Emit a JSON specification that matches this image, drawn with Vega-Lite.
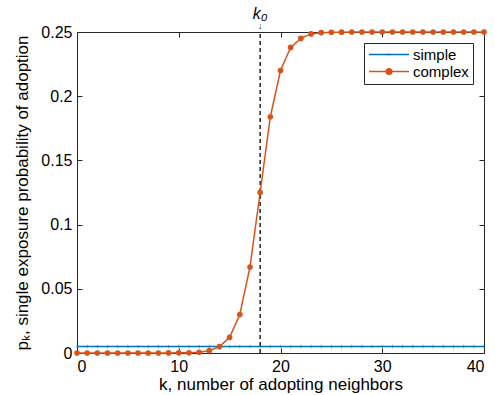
{
  "$schema": "https://vega.github.io/schema/vega-lite/v6.json",
  "width": 407,
  "height": 321,
  "autosize": "none",
  "padding": {"left": 77, "top": 32, "right": 11, "bottom": 42},
  "background": "white",
  "config": {
    "font": "Liberation Sans",
    "view": {"stroke": "#262626", "strokeWidth": 1},
    "axis": {"grid": false, "domain": false, "tickColor": "#262626", "tickWidth": 1, "labelColor": "#000", "titleColor": "#000", "labelFontSize": 16, "titleFontSize": 17, "titleFontWeight": "normal", "labelFont": "Liberation Sans", "titleFont": "Liberation Sans"}
  },
  "datasets": {
    "curves": [
      {"k": 0, "p": 0.005, "series": "simple"}, {"k": 1, "p": 0.005, "series": "simple"}, {"k": 2, "p": 0.005, "series": "simple"}, {"k": 3, "p": 0.005, "series": "simple"}, {"k": 4, "p": 0.005, "series": "simple"}, {"k": 5, "p": 0.005, "series": "simple"}, {"k": 6, "p": 0.005, "series": "simple"}, {"k": 7, "p": 0.005, "series": "simple"}, {"k": 8, "p": 0.005, "series": "simple"}, {"k": 9, "p": 0.005, "series": "simple"}, {"k": 10, "p": 0.005, "series": "simple"}, {"k": 11, "p": 0.005, "series": "simple"}, {"k": 12, "p": 0.005, "series": "simple"}, {"k": 13, "p": 0.005, "series": "simple"}, {"k": 14, "p": 0.005, "series": "simple"}, {"k": 15, "p": 0.005, "series": "simple"}, {"k": 16, "p": 0.005, "series": "simple"}, {"k": 17, "p": 0.005, "series": "simple"}, {"k": 18, "p": 0.005, "series": "simple"}, {"k": 19, "p": 0.005, "series": "simple"}, {"k": 20, "p": 0.005, "series": "simple"}, {"k": 21, "p": 0.005, "series": "simple"}, {"k": 22, "p": 0.005, "series": "simple"}, {"k": 23, "p": 0.005, "series": "simple"}, {"k": 24, "p": 0.005, "series": "simple"}, {"k": 25, "p": 0.005, "series": "simple"}, {"k": 26, "p": 0.005, "series": "simple"}, {"k": 27, "p": 0.005, "series": "simple"}, {"k": 28, "p": 0.005, "series": "simple"}, {"k": 29, "p": 0.005, "series": "simple"}, {"k": 30, "p": 0.005, "series": "simple"}, {"k": 31, "p": 0.005, "series": "simple"}, {"k": 32, "p": 0.005, "series": "simple"}, {"k": 33, "p": 0.005, "series": "simple"}, {"k": 34, "p": 0.005, "series": "simple"}, {"k": 35, "p": 0.005, "series": "simple"}, {"k": 36, "p": 0.005, "series": "simple"}, {"k": 37, "p": 0.005, "series": "simple"}, {"k": 38, "p": 0.005, "series": "simple"}, {"k": 39, "p": 0.005, "series": "simple"}, {"k": 40, "p": 0.005, "series": "simple"},
      {"k": 0, "p": 0, "series": "complex"}, {"k": 1, "p": 0, "series": "complex"}, {"k": 2, "p": 0, "series": "complex"}, {"k": 3, "p": 0, "series": "complex"}, {"k": 4, "p": 0, "series": "complex"}, {"k": 5, "p": 0, "series": "complex"}, {"k": 6, "p": 0, "series": "complex"}, {"k": 7, "p": 0.00001, "series": "complex"}, {"k": 8, "p": 0.00002, "series": "complex"}, {"k": 9, "p": 0.00004, "series": "complex"}, {"k": 10, "p": 0.0001, "series": "complex"}, {"k": 11, "p": 0.0002, "series": "complex"}, {"k": 12, "p": 0.0006, "series": "complex"}, {"k": 13, "p": 0.0018, "series": "complex"}, {"k": 14, "p": 0.005, "series": "complex"}, {"k": 15, "p": 0.0122, "series": "complex"}, {"k": 16, "p": 0.03, "series": "complex"}, {"k": 17, "p": 0.067, "series": "complex"}, {"k": 18, "p": 0.125, "series": "complex"}, {"k": 19, "p": 0.184, "series": "complex"}, {"k": 20, "p": 0.22, "series": "complex"}, {"k": 21, "p": 0.238, "series": "complex"}, {"k": 22, "p": 0.245, "series": "complex"}, {"k": 23, "p": 0.2485, "series": "complex"}, {"k": 24, "p": 0.2495, "series": "complex"}, {"k": 25, "p": 0.2498, "series": "complex"}, {"k": 26, "p": 0.2499, "series": "complex"}, {"k": 27, "p": 0.25, "series": "complex"}, {"k": 28, "p": 0.25, "series": "complex"}, {"k": 29, "p": 0.25, "series": "complex"}, {"k": 30, "p": 0.25, "series": "complex"}, {"k": 31, "p": 0.25, "series": "complex"}, {"k": 32, "p": 0.25, "series": "complex"}, {"k": 33, "p": 0.25, "series": "complex"}, {"k": 34, "p": 0.25, "series": "complex"}, {"k": 35, "p": 0.25, "series": "complex"}, {"k": 36, "p": 0.25, "series": "complex"}, {"k": 37, "p": 0.25, "series": "complex"}, {"k": 38, "p": 0.25, "series": "complex"}, {"k": 39, "p": 0.25, "series": "complex"}, {"k": 40, "p": 0.25, "series": "complex"}
    ],
    "marker": [{"k": 18, "p0": 0, "p1": 0.25, "label": "k₀", "arrow": "↓"}]
  },
  "layer": [
    {
      "data": {"name": "marker"},
      "mark": {"type": "rule", "strokeDash": [4, 3], "strokeWidth": 1.3, "color": "#000"},
      "encoding": {
        "x": {"field": "k", "type": "quantitative", "axis": null, "scale": {"domain": [0, 40], "nice": false}},
        "y": {"field": "p0", "type": "quantitative", "axis": null, "scale": {"domain": [0, 0.25], "nice": false}},
        "y2": {"field": "p1"}
      }
    },
    {
      "data": {"name": "curves"},
      "transform": [{"filter": "datum.series === 'simple'"}],
      "mark": {"type": "line", "strokeWidth": 1.5, "clip": false, "point": {"filled": false, "shape": "M0,-1L0,1", "size": 12, "strokeWidth": 0.8, "opacity": 0.7}},
      "encoding": {
        "x": {"field": "k", "type": "quantitative", "title": "k, number of adopting neighbors",
              "axis": {"orient": "bottom", "values": [0, 10, 20, 30, 40], "tickSize": 5, "offset": -5, "labelPadding": 5, "titlePadding": 2}},
        "y": {"field": "p", "type": "quantitative", "title": "pₖ, single exposure probability of adoption",
              "axis": {"orient": "left", "values": [0, 0.05, 0.1, 0.15, 0.2, 0.25], "format": "~g", "tickSize": 5, "offset": -5, "labelPadding": 5, "titlePadding": 9}},
        "color": {"field": "series", "type": "nominal", "sort": ["simple", "complex"],
                  "scale": {"domain": ["simple", "complex"], "range": ["#0072BD", "#D95319"]},
                  "legend": {"title": null, "orient": "top-right", "offset": 11, "strokeColor": "#262626", "fillColor": "white", "padding": 4, "labelFontSize": 15, "labelFont": "Liberation Sans", "labelColor": "#000", "symbolSize": 1600, "symbolStrokeWidth": 1.5, "clipHeight": 15, "rowPadding": 1, "labelOffset": 3,
                    "encode": {"symbols": {"update": {
                      "shape": {"signal": "datum.value === 'complex' ? 'M-1,0H1M0.14,0A0.14,0.14,0,1,1,-0.14,0A0.14,0.14,0,1,1,0.14,0' : 'M-1,0H1M0,-0.05V0.05'"},
                      "size": {"value": 1600},
                      "strokeWidth": {"value": 1.5},
                      "fill": {"signal": "datum.value === 'complex' ? '#D95319' : 'transparent'"},
                      "fillOpacity": {"signal": "datum.value === 'complex' ? 1 : 0"}}}}}}
      }
    },
    {
      "data": {"name": "curves"},
      "transform": [{"filter": "datum.series === 'complex'"}],
      "mark": {"type": "line", "strokeWidth": 1.5, "clip": false, "point": {"filled": true, "size": 32}},
      "encoding": {
        "x": {"field": "k", "type": "quantitative", "axis": null},
        "y": {"field": "p", "type": "quantitative", "axis": null},
        "color": {"field": "series", "type": "nominal", "legend": null}
      }
    },
    {
      "data": {"name": "marker"},
      "mark": {"type": "point", "opacity": 0},
      "encoding": {
        "x": {"field": "k", "type": "quantitative", "axis": {"orient": "top", "values": [0, 10, 20, 30, 40], "tickSize": 5, "offset": -5, "labels": false, "title": null}},
        "y": {"field": "p0", "type": "quantitative", "axis": {"orient": "right", "values": [0, 0.05, 0.1, 0.15, 0.2, 0.25], "tickSize": 5, "offset": -5, "labels": false, "title": null}}
      }
    },
    {
      "data": {"name": "marker"},
      "mark": {"type": "text", "fontSize": 16, "fontStyle": "italic", "dy": -18, "clip": false, "font": "Liberation Sans"},
      "encoding": {
        "x": {"field": "k", "type": "quantitative", "axis": null},
        "y": {"field": "p1", "type": "quantitative", "axis": null},
        "text": {"field": "label"}
      }
    },
    {
      "data": {"name": "marker"},
      "mark": {"type": "text", "fontSize": 9, "dy": -6, "clip": false},
      "encoding": {
        "x": {"field": "k", "type": "quantitative", "axis": null},
        "y": {"field": "p1", "type": "quantitative", "axis": null},
        "text": {"field": "arrow"}
      }
    }
  ],
  "resolve": {"axis": {"x": "independent", "y": "independent"}}
}
